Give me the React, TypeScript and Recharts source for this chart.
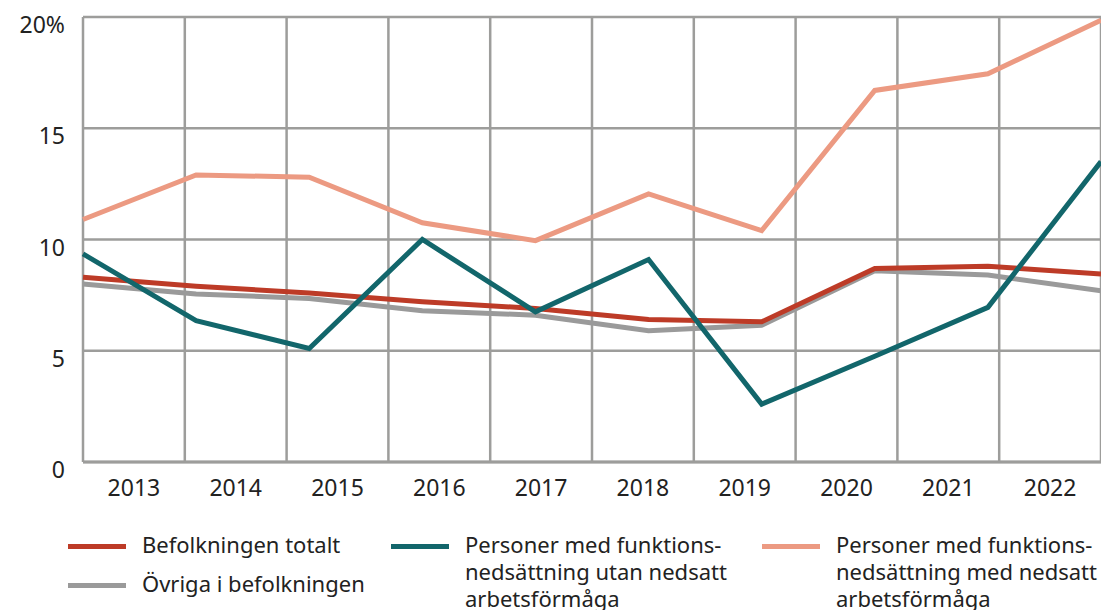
import React from 'react';
import { LineChart, Line, XAxis, YAxis, CartesianGrid, ReferenceLine } from 'recharts';

const years = ['2013', '2014', '2015', '2016', '2017', '2018', '2019', '2020', '2021', '2022'];
const totalt = [8.3, 7.9, 7.6, 7.2, 6.9, 6.4, 6.3, 8.7, 8.8, 8.45];
const ovriga = [8.0, 7.55, 7.35, 6.8, 6.6, 5.9, 6.15, 8.6, 8.4, 7.7];
const utanNedsatt = [9.35, 6.35, 5.1, 10.0, 6.75, 9.1, 2.6, 4.75, 6.95, 13.5];
const medNedsatt = [10.9, 12.9, 12.8, 10.75, 9.95, 12.05, 10.4, 16.7, 17.45, 19.85];
const yTicks = [0, 5, 10, 15, 20];

const COLORS = {
  totalt: '#bd3b27',
  ovriga: '#9a9a9a',
  utan: '#12666b',
  med: '#ec9a82',
  grid: '#9d9d9b',
  text: '#222222',
};

const FONT = "'Noto Sans', sans-serif";

const data = years.map((y, i) => ({
  i,
  year: y,
  totalt: totalt[i],
  ovriga: ovriga[i],
  utan: utanNedsatt[i],
  med: medNedsatt[i],
}));

// points run edge to edge (0..n-1), year labels sit in n equal bands over the same span
const lastIdx = years.length - 1;
const band = lastIdx / years.length;
const bandEdges = Array.from({ length: years.length + 1 }, (_, k) => k * band);
const bandCenters = years.map((_, k) => (k + 0.5) * band);

const YTick = (props: any) => {
  const { x, y, payload } = props;
  const label = payload.value === 20 ? '20%' : String(payload.value);
  return (
    <text x={x - 10} y={y + 16} textAnchor="end" fontSize={23} fontFamily={FONT} fill={COLORS.text}>
      {label}
    </text>
  );
};

const XTick = (props: any) => {
  const { x, y, index } = props;
  return (
    <text x={x} y={y + 26} textAnchor="middle" fontSize={23} fontFamily={FONT} fill={COLORS.text}>
      {years[index]}
    </text>
  );
};

const legendItems = [
  { key: 'totalt', color: COLORS.totalt, lines: ['Befolkningen totalt'], left: 68, top: 531 },
  { key: 'ovriga', color: COLORS.ovriga, lines: ['Övriga i befolkningen'], left: 68, top: 570 },
  {
    key: 'utan',
    color: COLORS.utan,
    lines: ['Personer med funktions-', 'nedsättning utan nedsatt', 'arbetsförmåga'],
    left: 391,
    top: 531,
  },
  {
    key: 'med',
    color: COLORS.med,
    lines: ['Personer med funktions-', 'nedsättning med nedsatt', 'arbetsförmåga'],
    left: 762,
    top: 531,
  },
];

export default function App() {
  return (
    <div style={{ position: 'absolute', left: 0, top: 0, width: 1101, height: 610, background: '#fff', overflow: 'hidden' }}>
      <LineChart width={1101} height={520} data={data} margin={{ top: 17, right: 0, bottom: 20, left: 0 }}>
        <CartesianGrid vertical={false} stroke={COLORS.grid} strokeWidth={2.5} />
        <XAxis
          dataKey="i"
          type="number"
          domain={[0, lastIdx]}
          ticks={bandCenters}
          tick={<XTick />}
          tickLine={false}
          axisLine={{ stroke: COLORS.grid, strokeWidth: 3 }}
          height={38}
          interval={0}
        />
        <YAxis
          domain={[0, 20]}
          ticks={yTicks}
          tick={<YTick />}
          tickLine={false}
          axisLine={false}
          width={83}
          interval={0}
        />
        {bandEdges.map((e, k) => (
          <ReferenceLine key={k} x={e} stroke={COLORS.grid} strokeWidth={2.5} ifOverflow="visible" />
        ))}
        <Line dataKey="ovriga" stroke={COLORS.ovriga} strokeWidth={5} dot={false} isAnimationActive={false} />
        <Line dataKey="totalt" stroke={COLORS.totalt} strokeWidth={5} dot={false} isAnimationActive={false} />
        <Line dataKey="med" stroke={COLORS.med} strokeWidth={5} dot={false} isAnimationActive={false} />
        <Line dataKey="utan" stroke={COLORS.utan} strokeWidth={5} dot={false} isAnimationActive={false} />
      </LineChart>
      {legendItems.map((it) => (
        <div key={it.key} style={{ position: 'absolute', left: it.left, top: it.top, display: 'flex', fontFamily: FONT }}>
          <div style={{ width: 58, height: 5, background: it.color, marginTop: 13, marginRight: 16 }} />
          <div style={{ fontSize: 22, lineHeight: '27px', color: COLORS.text, whiteSpace: 'nowrap' }}>
            {it.lines.map((l, k) => (
              <React.Fragment key={l}>
                {k > 0 && <br />}
                {l}
              </React.Fragment>
            ))}
          </div>
        </div>
      ))}
    </div>
  );
}
